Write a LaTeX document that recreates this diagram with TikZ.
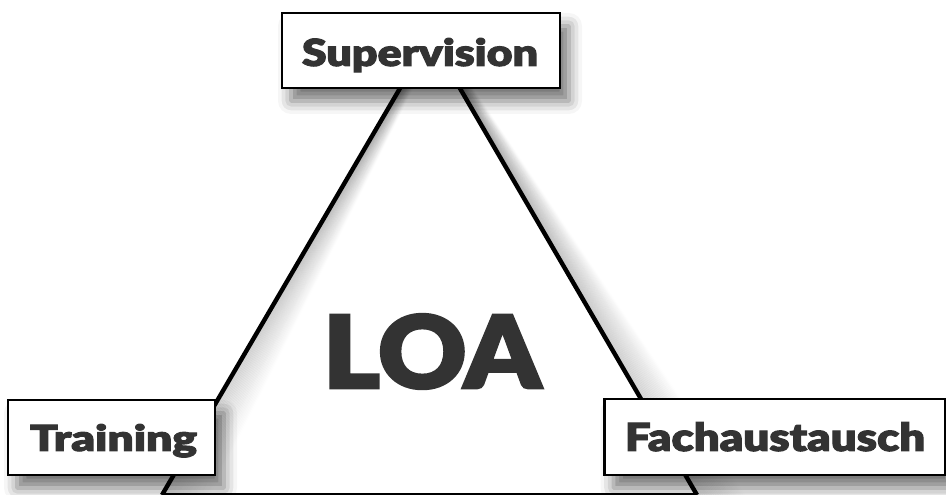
\documentclass[tikz,border=0pt]{standalone}
\usepackage{fontspec}
\newfontfamily\blk[FakeBold=2.5]{Lato Black}
\usetikzlibrary{shadows.blur}
\definecolor{txt}{HTML}{333333}
\tikzset{
  lbl/.style={draw=black, line width=2.2pt, fill=white, inner sep=0pt,
    blur shadow={shadow xshift=9pt, shadow yshift=-13pt, shadow blur radius=13pt, shadow opacity=55}},
  edge/.style={line width=4.4pt, black},
}
\newcommand{\fittext}[3]{\resizebox{#1}{#2}{\blk #3}}
\begin{document}
\begin{tikzpicture}[x=1pt,y=1pt]
\useasboundingbox (0,0) rectangle (946,495);
\clip (0,0) rectangle (946,495);
\coordinate (apex) at (430,458);
\coordinate (bl) at (162,0);
\coordinate (br) at (697,0);
% shadows of triangle edges
\foreach \i in {1,...,26}{
  \pgfmathsetmacro{\op}{0.075*(1-\i/28)}
  \draw[line width=3pt, black, opacity=\op] ([xshift=0.3*\i pt]apex) -- ([xshift=1.8*\i pt]bl);
  \draw[line width=3pt, black, opacity=\op] ([xshift=0.3*\i pt]apex) -- ([xshift=1.8*\i pt]br);
}
\draw[edge] (bl) -- (apex) -- (br);
\draw[black, line width=3.4pt] (bl) -- (br);
% center text
\node[txt, anchor=south] (loa) at (432,102.5) {\fittext{218pt}{74pt}{LOA}};
% boxes
\node[lbl, minimum width=278pt, minimum height=75pt] (sup) at (421,444.5) {};
\node[lbl, minimum width=207pt, minimum height=75pt] (train) at (111.5,57.5) {};
\node[lbl, minimum width=341pt, minimum height=76pt] (fach) at (775,58) {};
\node[txt, anchor=base] at (420,429) {\fittext{236pt}{28pt}{Supervision}};
\node[txt, anchor=base] at (113.5,44) {\fittext{167pt}{27pt}{Training}};
\node[txt, anchor=base] at (775,44) {\fittext{300pt}{29pt}{Fachaustausch}};
\end{tikzpicture}
\end{document}
